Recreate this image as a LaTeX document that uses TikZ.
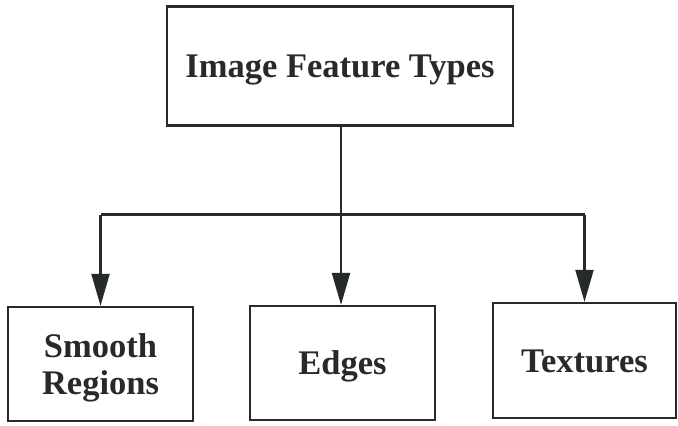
\documentclass[tikz,border=0pt]{standalone}
\usepackage{fontspec}
\setmainfont{Liberation Serif}
\usetikzlibrary{arrows.meta}
\definecolor{ink}{HTML}{262A28}
\begin{document}
\begin{tikzpicture}[x=1pt,y=-1pt,
  box/.style={draw=ink, line width=2.3pt, rectangle, inner sep=0pt,
    text=ink, font=\fontsize{34.5}{37}\selectfont\bfseries, align=center,
    text height=23pt, text depth=0pt},
  link/.style={draw=ink, line width=2.2pt},
  arrow/.style={link, -{Triangle[length=32pt,width=18pt]}}]
  \useasboundingbox (0,0) rectangle (678,426);
  % root
  \node[box, minimum width=346pt, minimum height=119pt] (root) at (340,66)
    {Image Feature Types};
  % leaves (two-line label: height spans both lines)
  \node[box, minimum width=185pt, minimum height=114pt, text height=60pt]
    (smooth) at (100.5,364) {Smooth\\Regions};
  \node[box, minimum width=185pt, minimum height=114pt] (edges) at (342.5,363)
    {Edges};
  \node[box, minimum width=183pt, minimum height=115pt] (tex) at (584.5,360.5)
    {Textures};
  % branching bar
  \coordinate (bar) at (341,214.5);
  \draw[arrow] (root.south -| bar) -- (bar |- edges.north);
  \draw[link] (smooth.north |- bar) -- (tex.north |- bar);
  \draw[arrow] (smooth.north |- bar) -- (smooth.north);
  \draw[arrow] (tex.north |- bar) -- (tex.north);
\end{tikzpicture}
\end{document}
